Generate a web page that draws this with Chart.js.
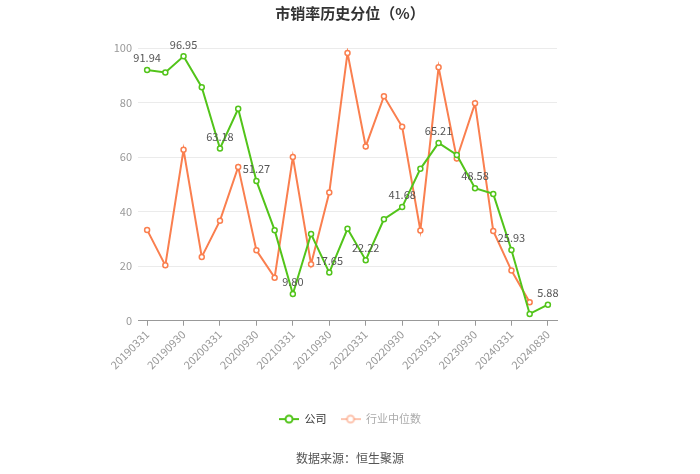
<!DOCTYPE html>
<html>
<head>
<meta charset="utf-8">
<script src="https://cdn.jsdelivr.net/npm/chart.js@4.4.1/dist/chart.umd.min.js"></script>
<style>
  body { margin: 0; background: #fff; }
  #wrap { position: relative; width: 700px; height: 474px; }
</style>
</head>
<body>
<div id="wrap"><canvas id="psChart"></canvas></div>
<script>
// 季度日期
const dates = [
  '20190331','20190630','20190930','20191231',
  '20200331','20200630','20200930','20201231',
  '20210331','20210630','20210930','20211231',
  '20220331','20220630','20220930','20221231',
  '20230331','20230630','20230930','20231231',
  '20240331','20240630','20240830'
];
// 公司 市销率历史分位
const companyPct = [
  91.94, 91.0, 96.95, 85.6, 63.18, 77.7, 51.27, 33.2, 9.80, 31.8, 17.65, 33.7,
  22.22, 37.2, 41.68, 55.7, 65.21, 60.8, 48.58, 46.5, 25.93, 2.5, 5.88
];
// 行业中位数
const industryPct = [
  33.3, 20.3, 62.7, 23.4, 36.7, 56.4, 25.8, 15.8, 60.0, 20.7, 47.0, 98.2,
  63.9, 82.3, 71.1, 33.1, 92.9, 59.5, 79.7, 32.9, 18.4, 6.8, null
];
const yTicks = [0, 20, 40, 60, 80, 100];

const GREEN = '#52c41a';
const ORANGE = '#fa7f4f';
const FONT = '"Noto Sans CJK SC", "Noto Sans", sans-serif';

// 图例里的“线+圆圈”小图标
function legendIcon(color) {
  const c = document.createElement('canvas');
  c.width = 20;
  c.height = 10;
  const g = c.getContext('2d');
  g.strokeStyle = color;
  g.lineWidth = 2;
  g.beginPath();
  g.moveTo(0, 5);
  g.lineTo(20, 5);
  g.stroke();
  g.beginPath();
  g.arc(10, 5, 3.5, 0, Math.PI * 2);
  g.fillStyle = '#fff';
  g.fill();
  g.stroke();
  return c;
}
const iconCompany = legendIcon(GREEN);
const iconIndustry = legendIcon('rgba(250,127,79,0.45)');

// 公司曲线的数值标签（隔一个点标一次）
const pointLabelsPlugin = {
  id: 'pointLabels',
  afterDatasetsDraw: (chart) => {
    const ctx = chart.ctx;
    const meta = chart.getDatasetMeta(0);
    if (meta.hidden) return;
    ctx.save();
    ctx.font = '11px ' + FONT;
    ctx.fillStyle = '#555';
    ctx.textAlign = 'center';
    ctx.textBaseline = 'middle';
    meta.data.forEach((pt, i) => {
      if (i % 2 !== 0) return;
      const v = companyPct[i];
      if (v == null) return;
      ctx.fillText(v.toFixed(2), pt.x, pt.y - 12);
    });
    ctx.restore();
  }
};

new Chart(document.getElementById('psChart'), {
  type: 'line',
  data: {
    labels: dates,
    datasets: [
      {
        label: '公司',
        data: companyPct,
        borderColor: GREEN,
        backgroundColor: GREEN,
        borderWidth: 2,
        tension: 0,
        pointRadius: 2.5,
        pointBorderWidth: 1.5,
        pointBackgroundColor: '#fff',
        pointBorderColor: GREEN
      },
      {
        label: '行业中位数',
        data: industryPct,
        borderColor: ORANGE,
        backgroundColor: ORANGE,
        borderWidth: 2,
        tension: 0,
        pointRadius: 2.5,
        pointBorderWidth: 1.5,
        pointBackgroundColor: '#fff',
        pointBorderColor: ORANGE
      }
    ]
  },
  options: {
    responsive: true,
    maintainAspectRatio: false,
    animation: false,
    layout: { padding: 0 },
    scales: {
      x: {
        offset: true,
        afterFit: (scale) => { scale.height += 26; },
        grid: { display: true, drawOnChartArea: false, drawTicks: true, tickLength: 5, color: '#999' },
        border: { display: true, color: '#999' },
        ticks: {
          autoSkip: false,
          maxRotation: 45,
          minRotation: 45,
          color: '#999',
          font: { size: 11, family: FONT },
          padding: 2,
          callback: function(val, index) {
            return index % 2 === 0 ? dates[index] : null;
          }
        }
      },
      y: {
        min: 0,
        max: 100,
        afterFit: (scale) => { scale.width = 138; },
        afterBuildTicks: (scale) => { scale.ticks = yTicks.map(v => ({ value: v })); },
        grid: { color: '#ebebeb', drawTicks: false },
        border: { display: false },
        ticks: { color: '#999', padding: 6, font: { size: 11, family: FONT } }
      },
      // 右侧占位轴，只用来留白，让标题和图例居中
      yRight: {
        position: 'right',
        min: 0,
        max: 100,
        afterFit: (scale) => { scale.width = 143; },
        grid: { display: false },
        border: { display: false },
        ticks: { display: false }
      }
    },
    plugins: {
      title: {
        display: true,
        text: '市销率历史分位（%）',
        color: '#333',
        font: { size: 15, weight: 'bold', family: FONT },
        padding: { top: 4, bottom: 26 }
      },
      subtitle: {
        display: true,
        position: 'bottom',
        text: '数据来源：恒生聚源',
        color: '#555',
        font: { size: 12, family: FONT },
        padding: { top: 17, bottom: 8 }
      },
      legend: {
        position: 'bottom',
        labels: {
          usePointStyle: true,
          pointStyleWidth: 20,
          boxHeight: 10,
          padding: 14,
          font: { size: 11, family: FONT },
          generateLabels: (chart) => [
            { text: '公司', pointStyle: iconCompany, fontColor: '#333', datasetIndex: 0,
              hidden: !chart.isDatasetVisible(0), lineWidth: 0 },
            { text: '行业中位数', pointStyle: iconIndustry, fontColor: '#aaa', datasetIndex: 1,
              hidden: !chart.isDatasetVisible(1), lineWidth: 0 }
          ]
        }
      },
      tooltip: { enabled: false }
    }
  },
  plugins: [pointLabelsPlugin]
});
</script>
</body>
</html>
